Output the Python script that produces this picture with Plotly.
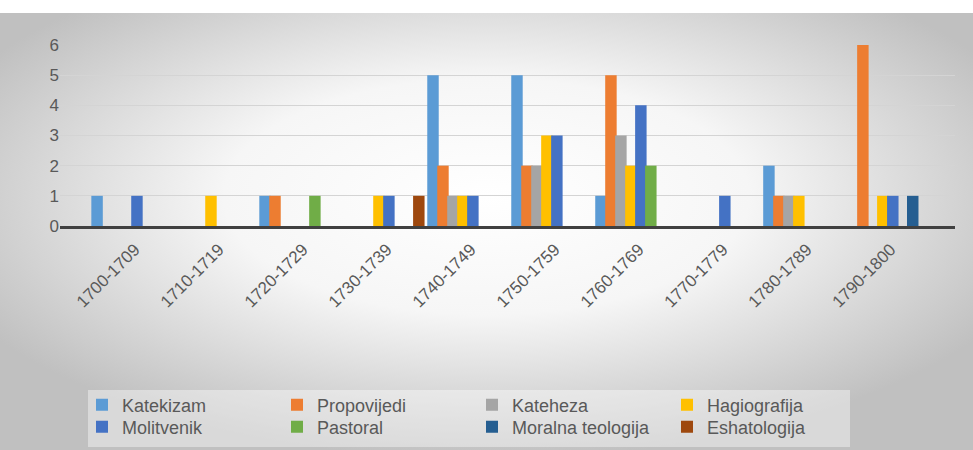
import base64
import plotly.graph_objects as go

# Decades on the category axis
decades = ["1700-1709", "1710-1719", "1720-1729", "1730-1739", "1740-1749",
           "1750-1759", "1760-1769", "1770-1779", "1780-1789", "1790-1800"]

# Number of works per genre in each decade
katekizam         = [1, 0, 1, 0, 5, 5, 1, 0, 2, 0]
propovijedi       = [0, 0, 1, 0, 2, 2, 5, 0, 1, 6]
kateheza          = [0, 0, 0, 0, 1, 2, 3, 0, 1, 0]
hagiografija      = [0, 1, 0, 1, 1, 3, 2, 0, 1, 1]
molitvenik        = [1, 0, 0, 1, 1, 3, 4, 1, 0, 1]
pastoral          = [0, 0, 1, 0, 0, 0, 2, 0, 0, 0]
moralna_teologija = [0, 0, 0, 0, 0, 0, 0, 0, 0, 1]
eshatologija      = [0, 0, 0, 1, 0, 0, 0, 0, 0, 0]

series = [
    ("Katekizam", katekizam, "#5B9BD5"),
    ("Propovijedi", propovijedi, "#ED7D31"),
    ("Kateheza", kateheza, "#A5A5A5"),
    ("Hagiografija", hagiografija, "#FFC000"),
    ("Molitvenik", molitvenik, "#4472C4"),
    ("Pastoral", pastoral, "#70AD47"),
    ("Moralna teologija", moralna_teologija, "#255E91"),
    ("Eshatologija", eshatologija, "#9E480E"),
]

W, H = 973, 450
ML, MR, MT, MB = 60, 18, 45, 224
plot_w = W - ML - MR
plot_h = H - MT - MB

# Soft grey radial background of the chart area
bg_svg = (
    '<svg xmlns="http://www.w3.org/2000/svg" width="973" height="437" '
    'preserveAspectRatio="none" viewBox="0 0 973 437">'
    '<defs><radialGradient id="g" cx="50%" cy="42%" r="60%">'
    '<stop offset="0" stop-color="#FFFFFF"/>'
    '<stop offset="0.45" stop-color="#F6F6F6"/>'
    '<stop offset="1" stop-color="#C0C0C0"/>'
    '</radialGradient></defs>'
    '<rect width="973" height="437" fill="url(#g)"/></svg>'
)
bg_uri = "data:image/svg+xml;base64," + base64.b64encode(bg_svg.encode()).decode()

# Bars in a cluster: 8 slots filling 95% of each category, drawn slightly
# wider than the slot so neighbouring columns touch like in the 3-D look.
n = len(series)
group = 0.95
slot = group / n
bar_w = slot * 1.15

fig = go.Figure()
for i, (name, vals, color) in enumerate(series):
    centre = -group / 2 + slot * (i + 0.5)
    fig.add_trace(go.Bar(
        name=name,
        x=decades,
        y=vals,
        width=bar_w,
        offset=centre - bar_w / 2,
        marker=dict(color=color, line=dict(width=0)),
        legend="legend" if i < 4 else "legend2",
    ))

legend_common = dict(
    orientation="h",
    xref="container",
    yref="container",
    xanchor="left",
    yanchor="middle",
    entrywidth=150,
    entrywidthmode="pixels",
    bgcolor="rgba(0,0,0,0)",
    borderwidth=0,
    font=dict(size=18, color="#595959"),
    traceorder="normal",
    itemwidth=30,
)

fig.update_layout(
    width=W,
    height=H,
    margin=dict(l=ML, r=MR, t=MT, b=MB, autoexpand=False),
    paper_bgcolor="white",
    plot_bgcolor="rgba(0,0,0,0)",
    barmode="group",
    font=dict(family="Liberation Sans, Arial, sans-serif", color="#595959", size=15),
    images=[dict(
        source=bg_uri,
        xref="paper", yref="paper",
        x=-ML / plot_w, y=1 + (MT - 13) / plot_h,
        sizex=W / plot_w, sizey=(H - 13) / plot_h,
        xanchor="left", yanchor="top",
        sizing="stretch", layer="below",
    )],
    shapes=[dict(
        type="rect", xref="paper", yref="paper", layer="below",
        x0=(88 - ML) / plot_w, x1=(850 - ML) / plot_w,
        y0=-(447 - MT - plot_h) / plot_h, y1=-(390 - MT - plot_h) / plot_h,
        fillcolor="rgba(255,255,255,0.40)",
        line=dict(width=0),
    )],
    xaxis=dict(
        type="category",
        range=[-0.857, 9.80],
        tickangle=-45,
        tickfont=dict(size=17, color="#595959"),
        ticklabelstandoff=4,
        ticklabelshift=3,
        showline=True,
        linecolor="#404040",
        linewidth=3,
        showgrid=False,
        ticks="",
    ),
    yaxis=dict(
        range=[0, 6],
        dtick=1,
        tickfont=dict(size=17, color="#595959"),
        showgrid=True,
        gridcolor="#D4D4D4",
        gridwidth=1,
        zeroline=False,
        showline=False,
        ticks="",
    ),
    legend=dict(legend_common, x=82 / W, y=1 - 405 / H),
    legend2=dict(legend_common, x=82 / W, y=1 - 427 / H),
)

fig.write_html("out.html")
